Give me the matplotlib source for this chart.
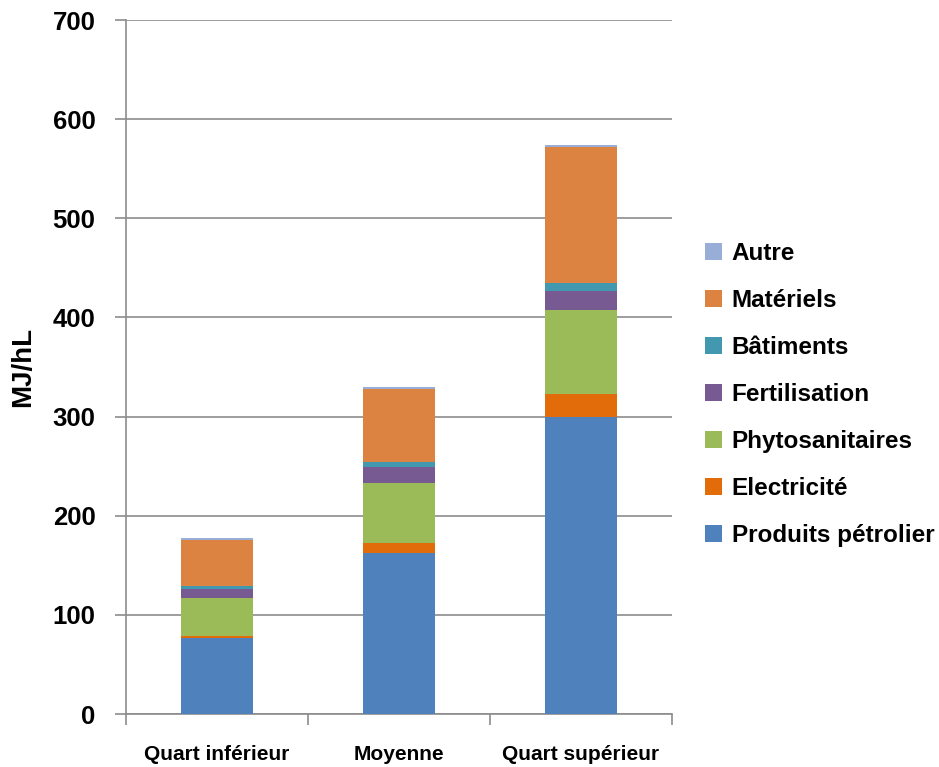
import numpy as np
import matplotlib.pyplot as plt
import matplotlib as mpl

# Energy consumption per hectolitre, stacked by item
groupes = ["Quart inférieur", "Moyenne", "Quart supérieur"]
postes = ["Produits pétrolier", "Electricité", "Phytosanitaires", "Fertilisation",
          "Bâtiments", "Matériels", "Autre"]
produits_petroliers = [77, 162, 300]
electricite = [2, 10.5, 22.5]
phytosanitaires = [38, 60.5, 85]
fertilisation = [9, 16, 19]
batiments = [3.5, 5, 8.5]
materiels = [46.5, 74, 137]
autre = [1.5, 2, 1.5]

couleurs = ["#4F81BD", "#E36C0A", "#9BBB59", "#775A92", "#4198AF", "#DC8342", "#98AED6"]

mpl.rcParams["font.family"] = ["Liberation Sans", "DejaVu Sans"]
mpl.rcParams["font.weight"] = "bold"

series = [produits_petroliers, electricite, phytosanitaires, fertilisation,
          batiments, materiels, autre]

fig = plt.figure(figsize=(9.39, 7.67), dpi=100)
ax = fig.add_axes([0.1342, 0.0691, 0.7157 - 0.1342, 0.9739 - 0.0691])

x = np.arange(len(groupes))
bas = np.zeros(len(groupes))
handles = []
for nom, vals, c in zip(postes, series, couleurs):
    b = ax.bar(x, vals, width=0.4, bottom=bas, color=c, label=nom, zorder=3)
    handles.append(b)
    bas += np.array(vals)

ax.set_xlim(-0.5, 2.5)
ax.set_ylim(0, 700)
ax.set_yticks(np.arange(0, 701, 100))
ax.yaxis.grid(True, color="#8C8C8C", linewidth=1.2, zorder=0)
ax.set_axisbelow(True)

for s in ["top", "right"]:
    ax.spines[s].set_visible(False)
for s in ["left", "bottom"]:
    ax.spines[s].set_color("#8C8C8C")
    ax.spines[s].set_linewidth(1.2)

# category boundaries carry the x ticks
ax.set_xticks([-0.5, 0.5, 1.5, 2.5])
ax.set_xticklabels([])
ax.set_xticks(x, minor=True)
ax.set_xticklabels(groupes, minor=True, fontsize=15, fontweight="bold")
ax.tick_params(axis="x", which="major", length=8, width=1.2, color="#8C8C8C", direction="out")
ax.tick_params(axis="x", which="minor", length=0, pad=22)
ax.tick_params(axis="y", length=8, width=1.2, color="#8C8C8C", direction="out",
               labelsize=18.5, pad=14)
for t in ax.get_yticklabels():
    t.set_fontweight("bold")

ax.set_ylabel("MJ/hL", fontsize=20, fontweight="bold", labelpad=12)

ax.legend(handles[::-1], postes[::-1], loc="center left", bbox_to_anchor=(1.02, 0.46),
          frameon=False, handlelength=0.7, handleheight=0.7,
          handletextpad=0.4, labelspacing=0.99, prop={"size": 17.5, "weight": "bold"})

fig.savefig("out.png", dpi=100, facecolor="white")
